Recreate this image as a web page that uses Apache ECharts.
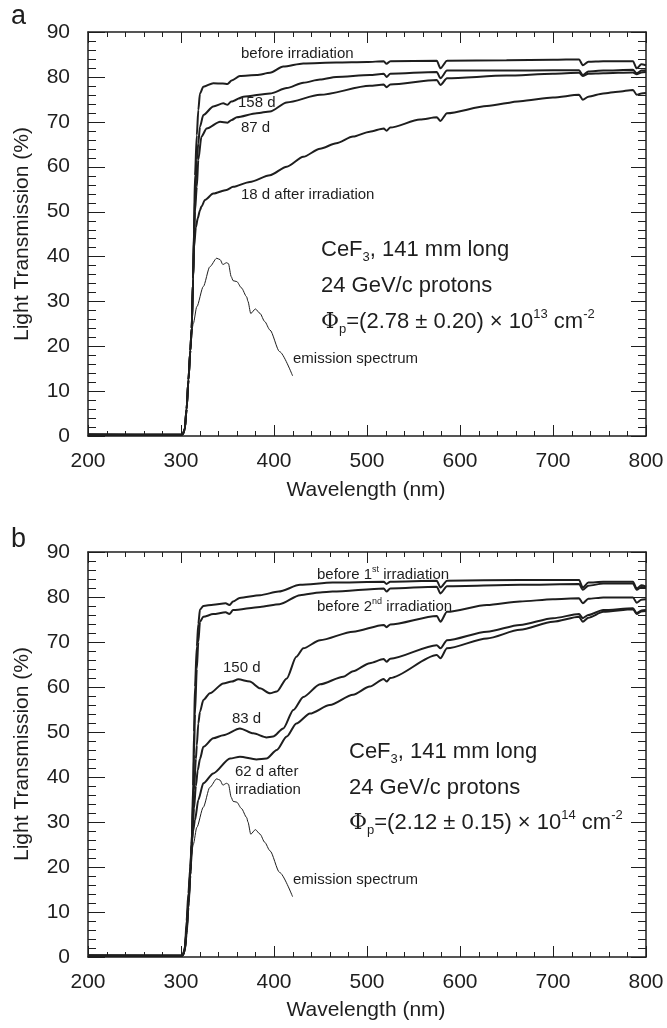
<!DOCTYPE html>
<html>
<head>
<meta charset="utf-8">
<title>CeF3 light transmission</title>
<script src="https://cdn.jsdelivr.net/npm/echarts@6.0.0/dist/echarts.min.js"></script>
<style>
  html, body { margin: 0; padding: 0; background: #fff; }
  #chart { width: 667px; height: 1028px; }
</style>
</head>
<body>
<div id="chart"></div>
<script>
// panel a: 18/87/158 d after irradiation, [nm, %]
const aBefore = [[200,0.4],[250,0.3],[300,0.3],[302,0.4],[304,1.5],[306,6],[308,12.5],[310,19],[311.5,24],[313,35],[314,46],[315,58],[317,67],[318.6,72.6],[320.4,76.3],[324,77.8],[334.7,78.6],[345,78.5],[350,78.4],[354.5,79.2],[363.4,80.2],[381.4,80.4],[395.7,80.9],[410,82.3],[431.5,83],[467,83.2],[500,83.3],[518,83.5],[521,82.9],[525,83.5],[575,83.6],[579,81.9],[586,83.6],[650,83.7],[700,83.8],[728,83.9],[732,82.6],[738,83.4],[754,83.5],[786,83.5],[790,81.9],[795,82.8],[800,82.6]];
const a158d = [[200,0.3],[300,0.3],[302,0.4],[304,1.5],[306,6],[308,12.5],[310,19],[311.5,24],[313,35],[314,45],[315,53],[317,61.5],[318.6,65.2],[320.4,68.9],[324,71.5],[334.7,73.4],[345.5,74.1],[350,73.8],[354,74.5],[367,75.6],[395.7,76.3],[413.7,77.5],[431.5,78.7],[449.5,79.4],[467,80],[503,80.4],[518,80.7],[521,80],[525,80.7],[575,81.1],[579,79.7],[586,81.4],[650,81.4],[700,81.5],[728,81.5],[732,80.4],[738,81.2],[754,81.4],[786,81.6],[790,80.8],[795,81.4],[800,81.5]];
const a87d = [[200,0.3],[300,0.3],[302,0.4],[304,1.5],[306,6],[308,12.5],[310,19],[311.5,24],[313,35],[314,44],[315,50],[317,55.5],[318.6,61.5],[322,66.7],[327.6,68.5],[342,70],[350,69.8],[354.5,70.4],[360,71],[381.4,71.9],[395.7,72.3],[413.7,74.3],[449.5,76],[503,78],[518,78.3],[521,77.7],[525,78.3],[575,79.3],[579,78.2],[586,79.7],[650,80.3],[700,80.7],[728,80.9],[732,80.2],[738,80.7],[754,80.8],[786,81],[790,80.6],[795,81],[800,81.1]];
const a18d = [[200,0.3],[300,0.3],[302,0.4],[304,1.5],[306,6],[308,12.5],[310,19],[311.5,24],[313,35],[314,42],[316,46.5],[318,48.5],[320.4,50.3],[322,51.1],[325.8,52.6],[334.7,54],[349,54.8],[356,55.5],[374,56.6],[395.7,58.1],[413.7,60],[431.5,62.2],[449.5,64],[467,65.2],[485,66.7],[503,67.8],[518,68.5],[521,68],[525,68.7],[557,70.5],[575,71],[579,70.2],[586,71.9],[629,73.5],[665,74.6],[700,75.4],[728,76],[732,74.9],[738,75.6],[754,76.3],[770,76.7],[786,77.1],[790,76],[795,76.3],[800,76.4]];

// panel b: two irradiations, 62/83/150 d
const bBefore1 = [[200,0.4],[300,0.3],[302,0.4],[304,1.5],[306,6],[308,12.5],[310,19],[311.5,25],[313,38],[314,50],[315,60],[317,69],[318.6,74],[320.4,77.2],[324,78],[334.7,78.3],[348,78.6],[352,78.2],[356,79],[363,79.8],[385,80.4],[405,81.2],[428,82.7],[463,83.2],[518,83.4],[521,82.9],[525,83.4],[575,83.6],[579,82.1],[586,83.6],[665,83.8],[728,83.8],[732,82.1],[738,83.2],[754,83.4],[786,83.4],[790,81.9],[795,82.6],[800,82.3]];
const bBefore2 = [[200,0.3],[300,0.3],[302,0.4],[304,1.5],[306,6],[308,12],[310,18],[311.5,24],[313,35],[314,45],[315,54],[317,64],[318.6,70],[320.4,74.5],[324,75.6],[334.7,76.2],[348,76.6],[352,76.2],[356,77.1],[385,77.8],[406,78.4],[428,80.4],[449.5,81],[463,81.2],[518,81.9],[521,81.2],[525,81.9],[575,82.3],[579,80.8],[586,82.4],[665,82.7],[728,82.9],[732,81.6],[738,82.5],[754,83],[786,83],[790,81.6],[795,82.2],[800,82.1]];
const b150d = [[200,0.3],[300,0.3],[302,0.4],[304,1.5],[306,5.5],[308,12],[310,19],[312,28],[314,37],[316,44],[317,47],[318.6,51.9],[320.4,54.5],[324,57.1],[331,58.6],[345.5,60.8],[354.5,61.2],[361.6,61.7],[374,61.2],[385,59.7],[395.7,58.6],[403,59],[413.7,61.9],[424,66.7],[431.5,68.6],[449.5,70.4],[485,72.3],[518,73.8],[521,73.3],[525,73.9],[575,75.8],[579,74.5],[586,76.7],[629,78.2],[664.5,79],[700,79.5],[728,79.7],[732,78.6],[738,79.6],[754,79.9],[786,79.9],[790,78.7],[795,79.4],[800,79.5]];
const b83d = [[200,0.3],[300,0.3],[302,0.4],[304,1.4],[306,5],[308,11],[310,18],[312,26],[314,33],[316,38],[318,41.5],[320.4,44],[324,46.7],[334.7,48.6],[345.5,49.3],[363.4,50.8],[377.7,49.7],[392,48.8],[399,49],[410,50.8],[420.8,54.9],[431.5,57.8],[449.5,60.6],[474.5,62.3],[485,63.5],[503,65.3],[518,66.2],[521,65.6],[525,66.3],[575,69.3],[579,68.6],[586,70.4],[629,72.3],[664.5,73.8],[700,75.3],[728,76.2],[732,75.3],[738,76],[754,77.1],[786,77.5],[790,76.4],[795,77],[800,77.1]];
const b62d = [[200,0.3],[300,0.3],[302,0.4],[304.3,2.3],[306,8],[307.9,14.1],[310,20],[311.5,25.3],[313,28],[315,30.4],[318.6,34.9],[324,38.6],[334.7,40.8],[352.7,44.1],[363.4,44.5],[381,43.9],[392,44.1],[403,46],[413.7,49],[424,51.9],[438.7,54.1],[460,56],[485,58.3],[503,60.1],[518,61.8],[521,61.2],[525,62],[575,67.1],[579,66.4],[586,68.6],[629,70.8],[664.5,72.7],[700,74.5],[728,75.6],[732,74.5],[738,75.4],[754,76.7],[786,77.3],[790,76.2],[795,76.8],[800,76.9]];

// CeF3 emission spectrum (arb. scale), same in both panels
const emission = [[310,20],[313.3,25.1],[317,28.8],[324,33.3],[331,37.7],[338.4,39.6],[342,39.3],[345,38.2],[349,38.6],[351,38.4],[354,35.5],[356,34.6],[360,34.4],[365,33],[370.6,31],[372,30],[375,27.3],[380,28.3],[385,27.3],[390,25.5],[395.7,23.6],[406,18.8],[420,13.4]];

// major tick values, 5 minor divisions each
const xMajor = [200, 300, 400, 500, 600, 700, 800];
const yMajor = [0, 10, 20, 30, 40, 50, 60, 70, 80, 90];

const xTicks = { min: 200, max: 800, step: 100 };
const yTicks = { min: 0, max: 90, step: 10 };

const FONT = "'Liberation Sans', Arial, Helvetica, sans-serif";
const INK = "#1e1e1e";

const grids = [
    { left: 88, top: 32, width: 558, height: 404 },
    { left: 88, top: 552, width: 558, height: 405 }
];

function xAx(gi, top) {
    return {
        type: "value", gridIndex: gi, position: top ? "top" : "bottom",
        min: xTicks.min, max: xTicks.max, interval: xTicks.step,
        axisLine: { show: true, onZero: false, lineStyle: { color: INK, width: 1.5 } },
        axisTick: { show: false },
        minorTick: { show: false },
        splitLine: { show: false },
        axisLabel: { show: !top, fontSize: 21, color: INK, fontFamily: FONT, margin: 15 }
    };
}

function yAx(gi, right) {
    return {
        type: "value", gridIndex: gi, position: right ? "right" : "left",
        min: yTicks.min, max: yTicks.max, interval: yTicks.step,
        axisLine: { show: true, onZero: false, lineStyle: { color: INK, width: 1.5 } },
        axisTick: { show: false },
        minorTick: { show: false },
        splitLine: { show: false },
        axisLabel: { show: !right, fontSize: 21, color: INK, fontFamily: FONT, margin: 18 }
    };
}

function withMinor(major) {
    const out = [];
    major.forEach((v, i) => {
        out.push({ v: v, major: true });
        if (i < major.length - 1) {
            for (let k = 1; k < 5; k++) out.push({ v: v + (major[i + 1] - v) * k / 5, major: false });
        }
    });
    return out;
}

const xTickList = withMinor(xMajor);
const yTickList = withMinor(yMajor);

// inward ticks on all four sides, placed through the grid's own scales
function renderTicks(params, api) {
    const lo = api.coord([xTicks.min, yTicks.min]);
    const hi = api.coord([xTicks.max, yTicks.max]);
    const L = lo[0], B = lo[1], R = hi[0], T = hi[1];
    const snap = (v) => Math.round(v) + 0.5;
    const kids = [];
    const seg = (x1, y1, x2, y2) => kids.push({
        type: "line", shape: { x1: x1, y1: y1, x2: x2, y2: y2 },
        style: { stroke: INK, lineWidth: 1 }
    });
    xTickList.forEach((t) => {
        const x = snap(api.coord([t.v, yTicks.min])[0]);
        const len = t.major ? 11 : 5;
        seg(x, B, x, B - len);
        seg(x, T, x, T + len);
    });
    yTickList.forEach((t) => {
        const y = snap(api.coord([xTicks.min, t.v])[1]);
        seg(L, y, L + (t.major ? 17 : 8), y);
        seg(R, y, R - (t.major ? 15 : 8), y);
    });
    return { type: "group", children: kids };
}

function tickSeries(gi) {
    return {
        type: "custom", xAxisIndex: gi * 2, yAxisIndex: gi * 2,
        data: [[500, 45]], renderItem: renderTicks, clip: false, silent: true, z: 3
    };
}

function curve(data, gi, thin) {
    return {
        type: "line", data: data, xAxisIndex: gi * 2, yAxisIndex: gi * 2,
        symbol: "none", smooth: 0.25, smoothMonotone: "x",
        lineStyle: { color: INK, width: thin ? 1 : 2 },
        silent: true
    };
}

function txt(x, y, text, size) {
    return {
        type: "text", x: x, y: y, silent: true,
        style: { text: text, fill: INK, font: size + "px " + FONT, verticalAlign: "middle", align: "left" }
    };
}

const supSub = (size) => ({
    phi: { fontFamily: "'DejaVu Serif', 'Liberation Serif', serif", fontSize: size, fill: INK },
    sub: { fontSize: Math.round(size * 0.6), fill: INK, fontFamily: FONT, verticalAlign: "bottom", lineHeight: Math.round(size * 0.6) },
    sup: { fontSize: Math.round(size * 0.6), fill: INK, fontFamily: FONT, verticalAlign: "top", lineHeight: Math.round(size * 0.6) }
});

function richTxt(x, y, text, size) {
    return {
        type: "text", x: x, y: y, silent: true,
        style: {
            text: text, fill: INK, fontSize: size, fontFamily: FONT,
            lineHeight: Math.round(size * 1.25),
            verticalAlign: "middle", align: "left", rich: supSub(size)
        }
    };
}

function yTitle(cy) {
    return {
        type: "text", x: 22, y: cy, rotation: Math.PI / 2, silent: true,
        style: { text: "Light Transmission (%)", fill: INK, font: "21px " + FONT, align: "center", verticalAlign: "middle" }
    };
}
function xTitle(cy) {
    return {
        type: "text", x: 366, y: cy, silent: true,
        style: { text: "Wavelength (nm)", fill: INK, font: "21px " + FONT, align: "center", verticalAlign: "middle" }
    };
}

const chart = echarts.init(document.getElementById("chart"));

chart.setOption({
    animation: false,
    backgroundColor: "#fff",
    grid: grids,
    xAxis: [xAx(0, false), xAx(0, true), xAx(1, false), xAx(1, true)],
    yAxis: [yAx(0, false), yAx(0, true), yAx(1, false), yAx(1, true)],
    series: [
        curve(aBefore, 0), curve(a158d, 0), curve(a87d, 0), curve(a18d, 0), curve(emission, 0, true),
        curve(bBefore1, 1), curve(bBefore2, 1), curve(b150d, 1), curve(b83d, 1), curve(b62d, 1), curve(emission, 1, true),
        tickSeries(0), tickSeries(1)
    ],
    graphic: [
        txt(11, 17, "a", 27),
        txt(11, 540, "b", 27),
        yTitle(234), yTitle(754),
        xTitle(490), xTitle(1010),
        // panel a
        txt(241, 54, "before irradiation", 15),
        txt(238, 103, "158 d", 15),
        txt(241, 128, "87 d", 15),
        txt(241, 195, "18 d after irradiation", 15),
        txt(293, 359, "emission spectrum", 15),
        richTxt(321, 250, "CeF{sub|3}, 141 mm long", 22),
        txt(321, 286, "24 GeV/c protons", 22),
        richTxt(321, 322, "{phi|Φ}{sub|p}=(2.78 ± 0.20) × 10{sup|13} cm{sup|-2}", 22),
        // panel b
        richTxt(317, 575, "before 1{sup|st} irradiation", 15),
        richTxt(317, 607, "before 2{sup|nd} irradiation", 15),
        txt(223, 668, "150 d", 15),
        txt(232, 719, "83 d", 15),
        txt(235, 772, "62 d after", 15),
        txt(235, 790, "irradiation", 15),
        txt(293, 880, "emission spectrum", 15),
        richTxt(349, 752, "CeF{sub|3}, 141 mm long", 22),
        txt(349, 788, "24 GeV/c protons", 22),
        richTxt(349, 823, "{phi|Φ}{sub|p}=(2.12 ± 0.15) × 10{sup|14} cm{sup|-2}", 22)
    ]
});
</script>
</body>
</html>
